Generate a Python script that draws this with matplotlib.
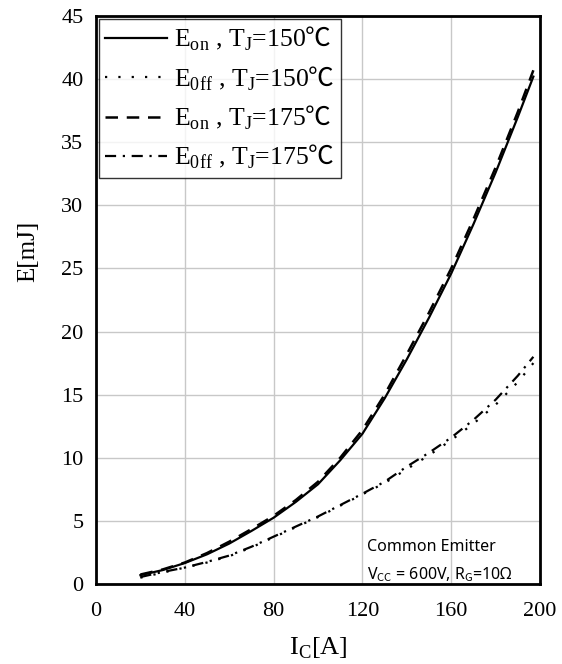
import matplotlib
matplotlib.use('Agg')
import matplotlib.pyplot as plt

# switching energy vs collector current
ic = [20, 30, 40, 50, 60, 70, 80, 90, 100, 110, 120, 130, 140, 150, 160, 170, 180, 190, 197]
eon_150 = [0.7, 1.1, 1.66, 2.35, 3.2, 4.2, 5.25, 6.5, 7.9, 9.8, 11.9, 14.7, 17.8, 21.1, 24.6, 28.5, 32.6, 37.0, 40.2]
eon_175 = [0.75, 1.15, 1.7, 2.45, 3.35, 4.35, 5.4, 6.65, 8.1, 10.0, 12.2, 15.0, 18.2, 21.5, 25.0, 28.9, 33.0, 37.4, 40.7]
eoff_150 = [0.5, 0.9, 1.3, 1.7, 2.2, 2.9, 3.7, 4.5, 5.3, 6.2, 7.1, 8.0, 9.1, 10.2, 11.4, 12.7, 14.2, 16.0, 17.5]
eoff_175 = [0.55, 0.95, 1.3, 1.75, 2.25, 2.95, 3.75, 4.55, 5.35, 6.25, 7.15, 8.1, 9.3, 10.4, 11.6, 13.0, 14.6, 16.5, 18.0]

x_ticks = [0, 40, 80, 120, 160, 200]
y_ticks = [0, 5, 10, 15, 20, 25, 30, 35, 40, 45]

plt.rcParams['font.family'] = ['Liberation Serif', 'DejaVu Serif']
plt.rcParams['mathtext.fontset'] = 'custom'
plt.rcParams['mathtext.rm'] = 'Liberation Serif'
# CJK family carries the degree-celsius sign
plt.rcParams['mathtext.sf'] = 'Noto Sans CJK JP'

fig = plt.figure(figsize=(5.62, 6.64), dpi=100)
ax = fig.add_axes([0.1708, 0.1205, 0.7901, 0.8554])

ax.plot(ic, eon_150, color='black', lw=1.6, ls='-',
        label=r'E$_{\rm on}$ , T$_{\rm J}$=150$\mathsf{℃}$')
ax.plot(ic, eoff_150, color='black', lw=1.6, ls=(0, (1, 5)),
        label=r'E$_{\rm 0ff}$ , T$_{\rm J}$=150$\mathsf{℃}$')
ax.plot(ic, eon_175, color='black', lw=1.8, ls=(0, (5, 3.5)),
        label=r'E$_{\rm on}$ , T$_{\rm J}$=175$\mathsf{℃}$')
ax.plot(ic, eoff_175, color='black', lw=1.6, ls=(0, (5, 3, 1, 3)),
        label=r'E$_{\rm 0ff}$ , T$_{\rm J}$=175$\mathsf{℃}$')

ax.set_xlim(0, 200)
ax.set_ylim(0, 45)
ax.set_xticks(x_ticks)
ax.set_yticks(y_ticks)
ax.tick_params(length=0, labelsize=16, pad=9)
ax.tick_params(axis='x', pad=13)
ax.grid(True, color='#c8c8c8', lw=1)
for s in ax.spines.values():
    s.set_linewidth(2)

ax.set_xlabel(r'I$_{\rm C}$[A]', fontsize=19)
ax.xaxis.set_label_coords(0.5, -0.09)
ax.set_ylabel('E[mJ]', fontsize=18)
ax.yaxis.set_label_coords(-0.128, 0.585)

leg = ax.legend(loc='upper left', fontsize=18.5, handlelength=2.4, frameon=True,
                fancybox=False, borderaxespad=0.1, borderpad=0.25,
                labelspacing=0.42, handletextpad=0.3)
leg.get_frame().set_edgecolor('black')
leg.get_frame().set_linewidth(1)

ax.text(122, 2.6, 'Common Emitter', fontsize=11.5, family='Noto Sans')
ax.text(122, 0.4, r'V$_{\mathsf{CC}}$ = 600V, R$_{\mathsf{G}}$=10Ω', fontsize=11.5, family='Noto Sans')

fig.savefig('out.png', dpi=100)
